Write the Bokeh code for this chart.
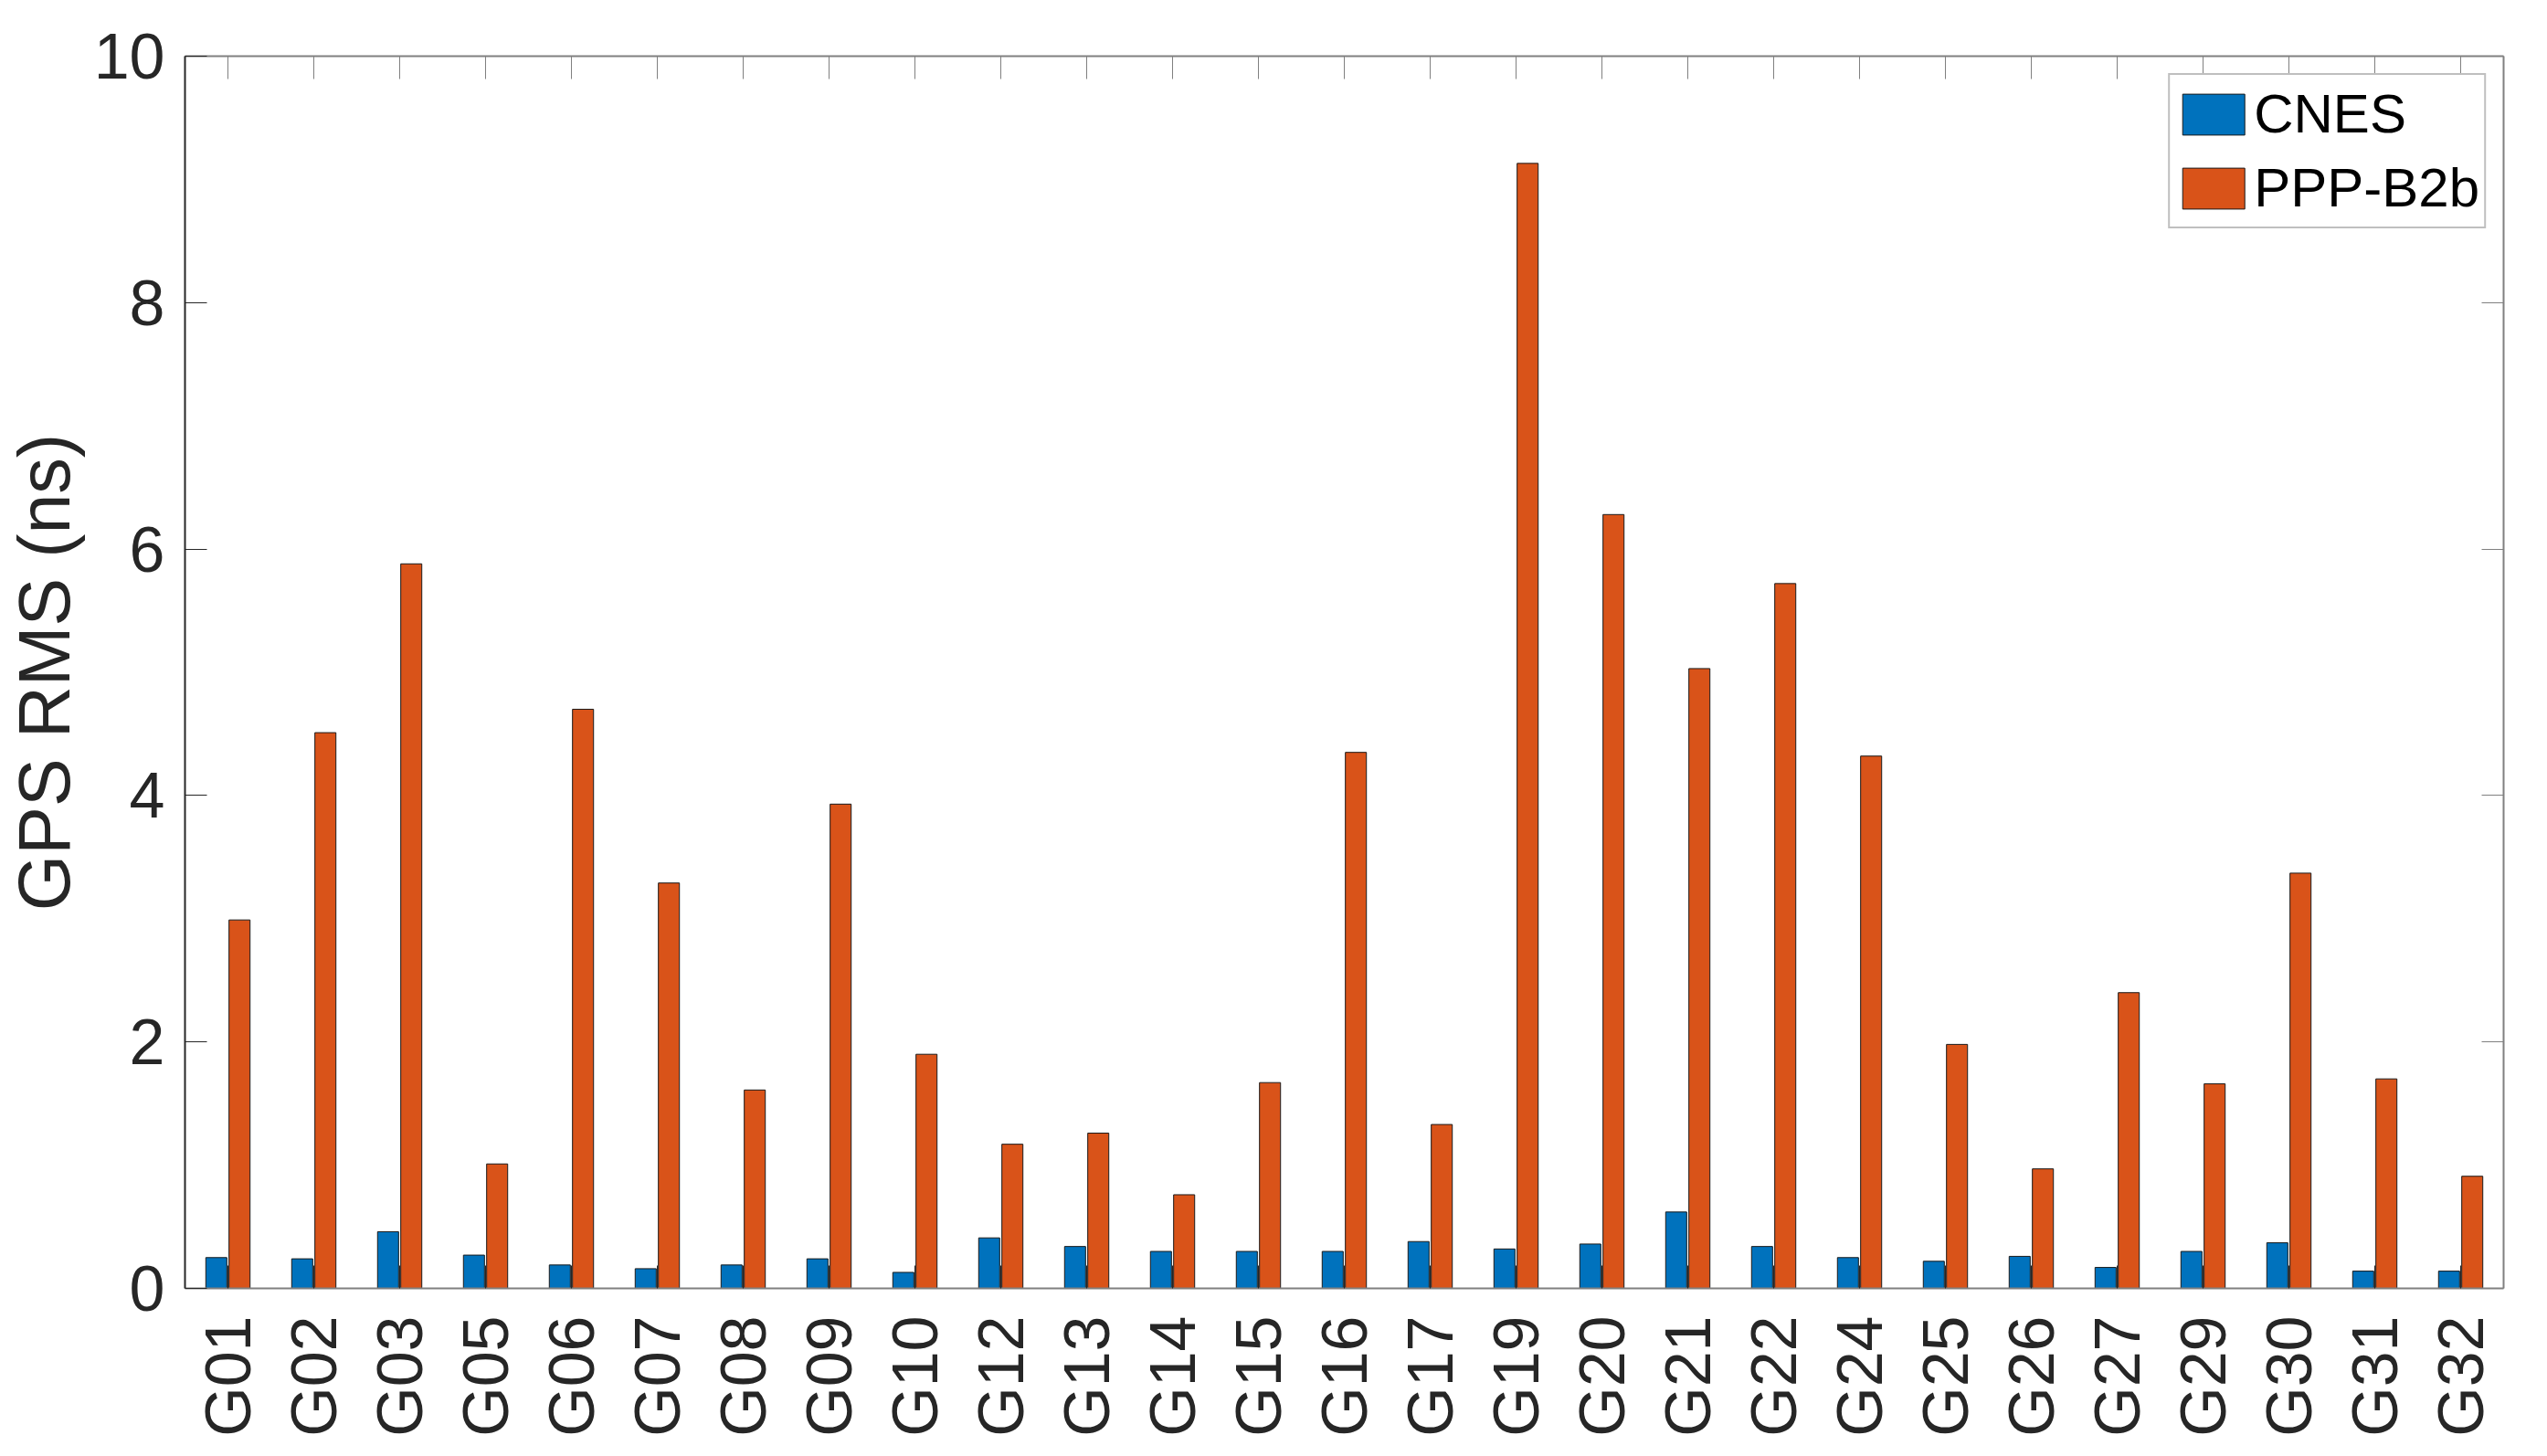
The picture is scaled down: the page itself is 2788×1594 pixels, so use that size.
import math
from bokeh.plotting import figure
from bokeh.models import (FactorRange, Range1d, FixedTicker, LinearAxis, CategoricalAxis,
                          Legend, LegendItem, ColumnDataSource, CustomJSTickFormatter)
from bokeh.transform import dodge
from bokeh.embed import file_html
from bokeh.resources import INLINE

satellites = ["G01", "G02", "G03", "G05", "G06", "G07", "G08", "G09", "G10", "G12", "G13", "G14",
              "G15", "G16", "G17", "G19", "G20", "G21", "G22", "G24", "G25", "G26", "G27", "G29",
              "G30", "G31", "G32"]
cnes = [0.25, 0.24, 0.46, 0.27, 0.19, 0.16, 0.19, 0.24, 0.13, 0.41, 0.34, 0.30, 0.30, 0.30,
        0.38, 0.32, 0.36, 0.62, 0.34, 0.25, 0.22, 0.26, 0.17, 0.30, 0.37, 0.14, 0.14]
ppp_b2b = [2.99, 4.51, 5.88, 1.01, 4.70, 3.29, 1.61, 3.93, 1.90, 1.17, 1.26, 0.76, 1.67, 4.35,
           1.33, 9.13, 6.28, 5.03, 5.72, 4.32, 1.98, 0.97, 2.40, 1.66, 3.37, 1.70, 0.91]
y_ticks = [0, 2, 4, 6, 8, 10]
y_label = "GPS RMS (ns)"
series_names = ["CNES", "PPP-B2b"]

FONT = "Liberation Sans"
TXT = "#262626"
GRAY = "#808080"

src = ColumnDataSource(dict(sat=satellites, cnes=cnes, ppp=ppp_b2b))

p = figure(x_range=FactorRange(factors=satellites), y_range=Range1d(0, 10),
           width=2772, height=1578, output_backend="svg", toolbar_location=None,
           min_border_left=191, min_border_right=32, min_border_top=61, min_border_bottom=168)
p.background_fill_color = "white"
p.border_fill_color = "white"
p.outline_line_color = None
p.xgrid.visible = False
p.ygrid.visible = False

r1 = p.vbar(x=dodge("sat", -0.135, range=p.x_range), top="cnes", width=0.245, source=src,
            fill_color="#0072BD", line_color="#1a1a1a", line_width=1)
r2 = p.vbar(x=dodge("sat", 0.135, range=p.x_range), top="ppp", width=0.245, source=src,
            fill_color="#D95319", line_color="#1a1a1a", line_width=1)

# bottom axis
xa = p.xaxis[0]
xa.major_label_orientation = math.pi / 2
xa.major_label_text_font = FONT
xa.major_label_text_font_size = "70px"
xa.major_label_text_color = TXT
xa.major_tick_in = 25
xa.major_tick_out = 0
xa.major_tick_line_color = TXT
xa.axis_line_color = GRAY
xa.axis_line_width = 2
xa.major_label_standoff = 30

# left axis
ya = p.yaxis[0]
ya.ticker = FixedTicker(ticks=y_ticks)
ya.major_label_text_font = FONT
ya.major_label_text_font_size = "70px"
ya.major_label_text_color = TXT
ya.major_tick_in = 24
ya.major_tick_out = 0
ya.minor_tick_line_color = None
ya.major_tick_line_color = TXT
ya.axis_line_color = TXT
ya.axis_line_width = 2
ya.major_label_standoff = 22
ya.axis_label = y_label
ya.axis_label_text_font = FONT
ya.axis_label_text_font_size = "79px"
ya.axis_label_text_font_style = "normal"
ya.axis_label_text_color = TXT
ya.axis_label_standoff = 7

# top and right box axes (ticks only, empty labels)
top = CategoricalAxis(formatter=CustomJSTickFormatter(code="return ''"),
                      major_tick_in=25, major_tick_out=0,
                      axis_line_color=GRAY, axis_line_width=2, major_tick_line_color=GRAY,
                      major_label_standoff=0)
p.add_layout(top, "above")
right = LinearAxis(ticker=FixedTicker(ticks=y_ticks),
                   major_label_overrides={t: "" for t in y_ticks},
                   major_tick_in=24, major_tick_out=0, minor_tick_line_color=None,
                   axis_line_color=GRAY, axis_line_width=2, major_tick_line_color=GRAY,
                   major_label_standoff=0)
p.add_layout(right, "right")

legend = Legend(items=[LegendItem(label=series_names[0], renderers=[r1]),
                       LegendItem(label=series_names[1], renderers=[r2])],
                location="top_right", margin=19, padding=5, spacing=6,
                glyph_width=85, glyph_height=56, label_height=75, label_standoff=2,
                label_text_font=FONT, label_text_font_size="60px", label_text_color="black",
                border_line_color=GRAY, border_line_width=2, background_fill_alpha=1.0)
p.add_layout(legend)

open("out.html", "w").write(file_html(p, INLINE))
